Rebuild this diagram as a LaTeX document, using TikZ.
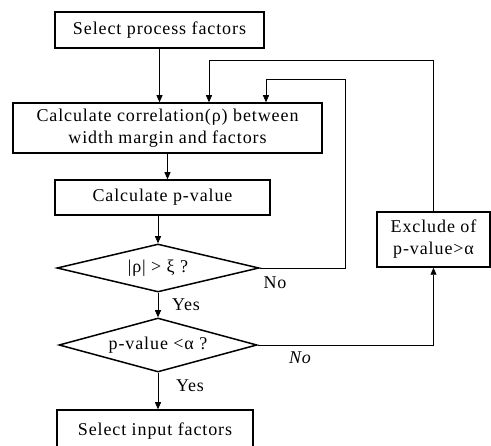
\documentclass[tikz,border=0pt]{standalone}
\usepackage{fontspec}
\setmainfont[LetterSpace=5]{Liberation Serif}
\usetikzlibrary{shapes.geometric,arrows.meta}
\begin{document}
\begin{tikzpicture}[x=1pt,y=-1pt,
  every node/.style={font=\fontsize{18}{22}\selectfont},
  box/.style={draw,line width=1.5pt,inner sep=0pt,align=center},
  dia/.style={draw,diamond,line width=1.5pt,inner sep=0pt,shape aspect=4},
  conn/.style={line width=0.7pt},
  arr/.style={conn,-{Triangle[length=7pt,width=6pt]}},
  lbl/.style={inner sep=0pt}]
\useasboundingbox (0,0) rectangle (491,446);
\node[box,minimum width=209pt,minimum height=36pt] (b1) at (159.5,30) {Select process factors};
\node[box,minimum width=309pt,minimum height=50pt] (b2) at (167.5,128) {Calculate correlation(ρ) between\\ width margin and factors};
\node[box,minimum width=215pt,minimum height=35pt] (b3) at (162.5,197.5) {Calculate p-value};
\node[dia,minimum width=202pt,minimum height=48pt] (d1) at (158,268) {|ρ| > ξ ?};
\node[dia,minimum width=198pt,minimum height=54pt] (d2) at (158,345) {p-value <α ?};
\node[box,minimum width=196pt,minimum height=42pt] (b4) at (155,431) {Select input factors};
\node[box,minimum width=113pt,minimum height=55pt] (ex) at (433.5,239.5) {Exclude of\\ p-value>α};
\coordinate (l1) at (209,60);
\coordinate (r2) at (345,268);
\coordinate (t2) at (266,79);
\draw[arr] (b1.south) -- (b1.south |- b2.north);
\draw[arr] (ex.north) |- (l1) -- (l1 |- b2.north);
\draw[arr] (d1.east) -- (r2) |- (t2) -- (t2 |- b2.north);
\draw[arr] (b2.south) -- (b2.south |- b3.north);
\draw[arr] (d1.north |- b3.south) -- (d1.north);
\draw[arr] (d1.south) -- (d2.north);
\draw[arr] (d2.south) -- (d2.south |- b4.north);
\draw[arr] (d2.east) -| (ex.south);
\node[lbl] (n1) at (275,283) {No};
\node[lbl] (y1) at (186,305) {Yes};
\node[lbl] (n2) at (300,358) {\itshape No};
\node[lbl] (y2) at (190,386) {Yes};
\end{tikzpicture}
\end{document}
